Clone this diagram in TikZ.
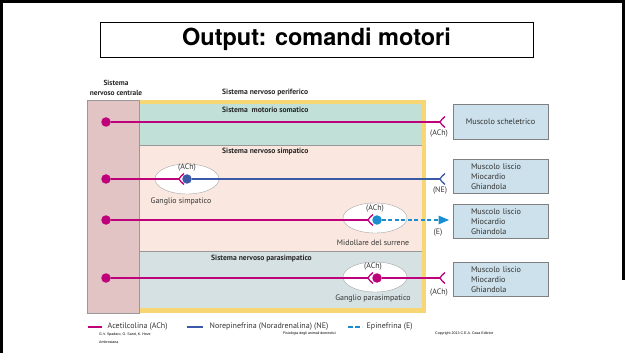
\documentclass[tikz,border=0pt]{standalone}
\usepackage{fontspec}
\setmainfont{PT Sans}
\newfontfamily\titlefont{TeX Gyre Heros}
\newfontfamily\creditfont{Liberation Sans}
\usetikzlibrary{arrows}
\usetikzlibrary{positioning}
\usetikzlibrary{shapes.geometric}
\usepackage{xcolor}
\definecolor{achcol}{RGB}{190,0,122}
\definecolor{necol}{RGB}{58,90,168}
\definecolor{ecol}{RGB}{26,140,208}
\definecolor{cnspink}{RGB}{226,196,196}
\definecolor{somgreen}{RGB}{192,224,216}
\definecolor{simpeach}{RGB}{250,232,224}
\definecolor{paragray}{RGB}{214,225,227}
\definecolor{pnsyellow}{RGB}{247,215,116}
\definecolor{targetblue}{RGB}{204,225,235}

\tikzset{
 lab/.style={inner sep=0, text=black!80, font=\fontsize{7.9}{9}\selectfont},
 sect/.style={lab, anchor=west, text=black!85, font=\bfseries\fontsize{7.6}{9}\selectfont},
 dot/.style={circle, inner sep=0, minimum size=9.5pt},
 gang/.style={ellipse, draw=gray!70, fill=white, minimum width=64pt, minimum height=30pt},
 fiber/.style={line width=1.4pt},
 target/.style={draw=gray, fill=targetblue, line width=.7pt, minimum width=95pt, minimum height=35pt,
   inner sep=0, text=black!80, font=\fontsize{8.2}{10}\selectfont},
 fork/.pic={\draw[line width=1.3pt] (5,-5.5) .. controls (2.5,-4) and (1,-1.2) .. (0,0) .. controls (1,1.2) and (2.5,4) .. (5,5.5);}
}

\begin{document}
\begin{tikzpicture}[x=1pt,y=-1pt]
\useasboundingbox (0,0) rectangle (625,353);
\draw[line width=3pt] (1.5,353) -- (1.5,1.5) -- (623.5,1.5) -- (623.5,280);
\node[draw, line width=.8pt, minimum width=433pt, minimum height=35pt, inner sep=0,
 font=\titlefont\bfseries\fontsize{23.5}{26}\selectfont] (title) at (316.5,39.5) {Output: comandi motori};

% regioni
\fill[cnspink, draw=gray!80] (87,100) rectangle (139,313);
\fill[pnsyellow] (139,100) rectangle (426,313);
\fill[somgreen] (139,104) rectangle (422,145);
\fill[simpeach] (139,145) rectangle (422,251);
\fill[paragray] (139,251) rectangle (422,308);
\draw[gray!80, line width=.5pt] (139,145) -- (422,145) (139,251) -- (422,251) (139,100) -- (139,313);

\node[lab, align=center, text=black!85, font=\bfseries\fontsize{7.4}{10}\selectfont] (snc) at (116,88) {Sistema\\nervoso centrale};
\node[sect] (snp) at (222,93) {Sistema nervoso periferico};
\node[sect] (som) at (222,110) {Sistema\ \ motorio somatico};
\node[sect] (simp) at (222,152) {Sistema nervoso simpatico};
\node[sect] (para) at (211,259) {Sistema nervoso parasimpatico};

% neuroni
\foreach \n/\y in {1/122,2/179,3/220,4/278}
 \node[dot, fill=achcol] (c\n) at (106,\y) {};
\node[gang] (g2) at (187,179) {};
\node[gang] (g3) at (375,218) {};
\node[gang] (g4) at (375,277) {};
\node[dot, fill=necol] (b2) at (187,179) {};
\node[dot, fill=ecol] (e3) at (377,220) {};
\node[dot, fill=achcol] (p4) at (377,278) {};
\coordinate (f2) at (179,179);
\coordinate (f3) at (368,220);
\coordinate (f4) at (368,278);
\coordinate (r1) at (440,122);
\coordinate (r2) at (440,179);
\coordinate (r4) at (440,278);
\coordinate (a3) at (449,220);

\draw[achcol, fiber] (c1) -- (r1);
\draw[achcol, fiber] (c2) -- (f2);
\draw[necol, fiber] (b2) -- (r2);
\draw[achcol, fiber] (c3) -- (f3);
\draw[ecol, fiber, dashed, dash pattern=on 4pt off 2.5pt, ->, >=triangle 45] (e3) -- (a3);
\draw[achcol, fiber] (c4) -- (f4);
\draw[achcol, fiber] (p4) -- (r4);
\pic[achcol] at (r1) {fork};
\pic[achcol] at (f2) {fork};
\pic[necol] at (r2) {fork};
\pic[achcol] at (f3) {fork};
\pic[achcol] at (f4) {fork};
\pic[achcol] at (r4) {fork};

\node[lab] (t2) at (187,168) {(ACh)};
\node[lab] (t3) at (375,209) {(ACh)};
\node[lab] (t4) at (373,267) {(ACh)};
\node[lab] (n2) at (181,202) {Ganglio simpatico};
\node[lab] (n3) at (373,243) {Midollare del surrene};
\node[lab] (n4) at (373,299) {Ganglio parasimpatico};
\node[lab] (k1) at (439,134) {(ACh)};
\node[lab] (k2) at (440,191) {(NE)};
\node[lab] (k3) at (438,233) {(E)};
\node[lab] (k4) at (439,293) {(ACh)};

% effettori
\node[target] (m1) at (500.5,121.5) {Muscolo scheletrico};
\foreach \n/\y in {2/176.5,3/221.5,4/279.5}
 \node[target, minimum height=34pt, text width=59pt, inner xsep=18pt, align=left] (m\n) at (500.5,\y) {Muscolo liscio\\Miocardio\\Ghiandola};

% legenda
\draw[achcol, fiber] (88,327) -- (102,327) node[lab, right=5pt, font=\fontsize{8}{9}\selectfont] (l1) {Acetilcolina (ACh)};
\draw[necol, fiber] (187,327) -- (203,327) node[lab, right=6pt, font=\fontsize{8}{9}\selectfont] (l2) {Norepinefrina (Noradrenalina) (NE)};
\draw[ecol, fiber, dashed, dash pattern=on 5pt off 2pt] (348,327) -- (362,327) node[lab, right=4pt, font=\fontsize{8}{9}\selectfont] (l3) {Epinefrina (E)};

\node[lab, anchor=west, align=left, text=black, font=\creditfont\fontsize{3.6}{8}\selectfont] (cr1) at (99,338) {G.V. Spadaro, G. Sand, K. Hove\\Ambrosiana};
\node[lab, anchor=west, text=black, font=\creditfont\fontsize{3.6}{5}\selectfont] (cr2) at (283,334) {Fisiologia degli animali domestici};
\node[lab, anchor=west, text=black, font=\creditfont\fontsize{3.6}{5}\selectfont] (cr3) at (435,334) {Copyright 2013 C.E.A. Casa Editrice};
\end{tikzpicture}
\end{document}
